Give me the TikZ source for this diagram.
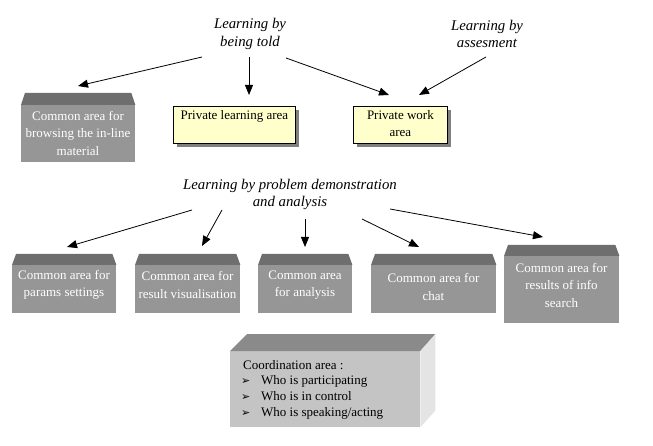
\documentclass[tikz,border=0pt]{standalone}
\usepackage{fontspec}
\setmainfont{Liberation Serif}
\newfontfamily\symfont{DejaVu Sans}
\usetikzlibrary{arrows.meta,shadows}
\definecolor{bodyc}{HTML}{969696}
\definecolor{topc}{HTML}{6E6E6E}
\definecolor{yel}{HTML}{FFFFCC}
\definecolor{shad}{HTML}{808080}
\definecolor{cofront}{HTML}{C4C4C4}
\definecolor{cotop}{HTML}{8A8A8A}
\definecolor{coright}{HTML}{E4E4E4}
\tikzset{
  cbox/.style={fill=bodyc, anchor=north west, inner sep=0pt},
  ctext/.style={text=white, align=center, font=\fontsize{13}{17.5}\selectfont, inner sep=0pt},
  pbox/.style={fill=yel, draw=black, line width=0.8pt, anchor=north west, inner sep=0pt,
    drop shadow={shadow xshift=4pt, shadow yshift=-4pt, fill=shad, opacity=1}},
  ptext/.style={align=center, font=\fontsize{13}{17.5}\selectfont, inner sep=0pt, anchor=north},
  lab/.style={align=center, font=\itshape\fontsize{14.8}{17.5}\selectfont, inner sep=0pt},
  arr/.style={-{Triangle[length=10pt,width=8pt]}, line width=0.8pt},
  bul/.style={},
}
\newcommand\mybul{\makebox[20pt][l]{\symfont\fontsize{11}{12}\selectfont ➢}}
\begin{document}
\begin{tikzpicture}[x=1pt,y=-1pt]
\useasboundingbox (0,0) rectangle (653,446);

% labels
\node[lab] (told) at (250,34) {Learning by\\being told};
\node[lab] (assess) at (487,34) {Learning by\\assesment};
\node[lab] (probl) at (290,194.5) {Learning by problem demonstration\\and analysis};

% common area boxes (top row)
\node[cbox, minimum width=114pt, minimum height=57pt] (browse) at (21,105) {};
\fill[topc] (browse.north west) -- ++(4,-12) -- ([xshift=-4pt,yshift=12pt]browse.north east) -- (browse.north east) -- cycle;
\node[ctext] (browset) at (78,133) {Common area for\\browsing the in-line\\material};

% private boxes
\node[pbox, minimum width=122pt, minimum height=37pt] (plearn) at (173,106) {};
\node[ptext] (plearnt) at ([yshift=-4pt]plearn.north) {Private learning area};
\node[pbox, minimum width=94pt, minimum height=37pt] (pwork) at (353,106) {};
\node[ptext] (pworkt) at ([yshift=-4pt]pwork.north) {Private work\\area};

% bottom row boxes
\node[cbox, minimum width=104pt, minimum height=48pt] (params) at (12,265) {};
\fill[topc] (params.north west) -- ++(4,-11) -- ([xshift=-4pt,yshift=11pt]params.north east) -- (params.north east) -- cycle;
\node[ctext] (paramst) at (64,285) {Common area for\\params settings};

\node[cbox, minimum width=105pt, minimum height=48pt] (resvis) at (135,265) {};
\fill[topc] (resvis.north west) -- ++(4,-11) -- ([xshift=-4pt,yshift=11pt]resvis.north east) -- (resvis.north east) -- cycle;
\node[ctext] (resvist) at (187.5,285) {Common area for\\result visualisation};

\node[cbox, minimum width=94pt, minimum height=48pt] (anal) at (258,265) {};
\fill[topc] (anal.north west) -- ++(4,-11) -- ([xshift=-4pt,yshift=11pt]anal.north east) -- (anal.north east) -- cycle;
\node[ctext] (analt) at (305,285) {Common area\\for analysis};

\node[cbox, minimum width=125pt, minimum height=48pt] (chat) at (371,265) {};
\fill[topc] (chat.north west) -- ++(4,-11) -- ([xshift=-4pt,yshift=11pt]chat.north east) -- (chat.north east) -- cycle;
\node[ctext] (chatt) at (433.5,287) {Common area for\\chat};

\node[cbox, minimum width=115pt, minimum height=67pt] (search) at (504,256) {};
\fill[topc] (search.north west) -- ++(4,-11) -- ([xshift=-4pt,yshift=11pt]search.north east) -- (search.north east) -- cycle;
\node[ctext] (searcht) at (561.5,285) {Common area for\\results of info\\search};

% coordination area
\node[fill=cofront, anchor=north west, inner sep=0pt, minimum width=190pt, minimum height=76pt] (coord) at (230,351) {};
\fill[cotop] (coord.north west) -- ++(17,-17) -- ([xshift=15pt,yshift=17pt]coord.north east) -- (coord.north east) -- cycle;
\fill[coright] (coord.north east) -- ++(15,-17) -- ([xshift=15pt,yshift=17pt]coord.south east) -- (coord.south east) -- cycle;
\node[anchor=north west, align=left, inner sep=0pt, font=\fontsize{13}{15.6}\selectfont] (coordt) at (241,360)
  {\hspace*{2pt}Coordination area :\\
   \mybul Who is participating\\
   \mybul Who is in control\\
   \mybul Who is speaking/acting};

% arrow endpoints
\coordinate (s1) at (202,57);  \coordinate (e1) at (78,86);
\coordinate (s2) at (249,57);  \coordinate (e2) at (249,95);
\coordinate (s3) at (286,58);  \coordinate (e3) at (389,95);
\coordinate (s4) at (486,57);  \coordinate (e4) at (419,95);
\coordinate (s5) at (192,210); \coordinate (e5) at (67,247);
\coordinate (s6) at (222,210); \coordinate (e6) at (202,246);
\coordinate (s7) at (305,219); \coordinate (e7) at (305,247);
\coordinate (s8) at (362,219); \coordinate (e8) at (419,247);
\coordinate (s9) at (390,209); \coordinate (e9) at (543,237);
\foreach \i in {1,...,9} { \draw[arr] (s\i) -- (e\i); }
\end{tikzpicture}
\end{document}
